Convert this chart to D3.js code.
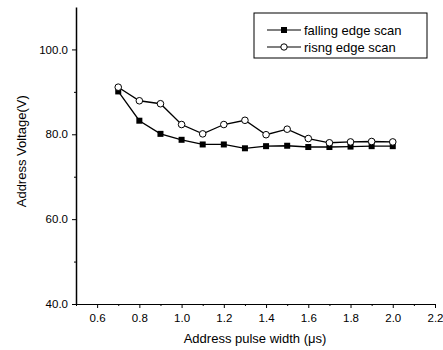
<!DOCTYPE html>
<html>
<head>
<meta charset="utf-8">
<script src="https://cdn.jsdelivr.net/npm/d3@7"></script>
<style>
  body { margin: 0; background: #fff; }
  svg { font-family: "Liberation Sans", Arial, sans-serif; }
  .axis path, .axis line { stroke: #000; }
  .axis text { font-size: 11.5px; fill: #000; }
</style>
</head>
<body>
<svg width="443" height="350"></svg>
<script>
const pulseWidth = [0.7, 0.8, 0.9, 1.0, 1.1, 1.2, 1.3, 1.4, 1.5, 1.6, 1.7, 1.8, 1.9, 2.0];
const fallingEdge = [90.1, 83.2, 80.1, 78.7, 77.6, 77.6, 76.7, 77.2, 77.3, 77.0, 77.0, 77.1, 77.2, 77.2];
const risingEdge = [91.1, 87.9, 87.2, 82.3, 80.1, 82.3, 83.3, 79.9, 81.2, 79.0, 78.0, 78.2, 78.3, 78.2];
const xMajor = [0.6, 0.8, 1.0, 1.2, 1.4, 1.6, 1.8, 2.0, 2.2];
const xMinor = [0.5, 0.7, 0.9, 1.1, 1.3, 1.5, 1.7, 1.9, 2.1];
const yMajor = [40, 60, 80, 100];
const yMinor = [50, 70, 90];
const seriesNames = ['falling edge scan', 'risng edge scan'];

const svg = d3.select('svg');

const x = d3.scaleLinear().domain([0.5, 2.2]).range([76, 435]);
const y = d3.scaleLinear().domain([40, 110]).range([304, 7]);

// axes
svg.append('g')
  .attr('class', 'axis')
  .attr('transform', `translate(0, ${y(40)})`)
  .call(d3.axisBottom(x).tickValues(xMinor).tickSize(2).tickFormat(''))
  .call(g => g.select('.domain').remove());

svg.append('g')
  .attr('class', 'axis')
  .attr('transform', `translate(0, ${y(40)})`)
  .call(d3.axisBottom(x).tickValues(xMajor).tickSize(4).tickSizeOuter(0).tickPadding(6).tickFormat(d3.format('.1f')))
  .call(g => g.select('.domain').attr('stroke-width', 1.2));

svg.append('g')
  .attr('class', 'axis')
  .attr('transform', `translate(${x(0.5)}, 0)`)
  .call(d3.axisLeft(y).tickValues(yMinor).tickSize(2).tickFormat(''))
  .call(g => g.select('.domain').remove());

svg.append('g')
  .attr('class', 'axis')
  .attr('transform', `translate(${x(0.5)}, 0)`)
  .call(d3.axisLeft(y).tickValues(yMajor).tickSize(4).tickSizeOuter(0).tickPadding(4).tickFormat(d3.format('.1f')))
  .call(g => g.select('.domain').attr('stroke-width', 1.5));

// axis titles
svg.append('text')
  .attr('x', 255).attr('y', 343)
  .attr('text-anchor', 'middle')
  .attr('font-size', 13)
  .text('Address pulse width (μs)');

svg.append('text')
  .attr('transform', `translate(26, ${y(76)}) rotate(-90)`)
  .attr('text-anchor', 'middle')
  .attr('font-size', 13)
  .text('Address Voltage(V)');

// series
const line = d3.line().x(d => x(d[0])).y(d => y(d[1]));
const falling = pulseWidth.map((p, i) => [p, fallingEdge[i]]);
const rising = pulseWidth.map((p, i) => [p, risingEdge[i]]);

svg.append('path').datum(rising)
  .attr('fill', 'none').attr('stroke', '#000').attr('stroke-width', 1.3)
  .attr('d', line);
svg.append('path').datum(falling)
  .attr('fill', 'none').attr('stroke', '#000').attr('stroke-width', 1.3)
  .attr('d', line);

svg.selectAll('.sq').data(falling).enter().append('rect')
  .attr('x', d => x(d[0]) - 3).attr('y', d => y(d[1]) - 3)
  .attr('width', 6).attr('height', 6).attr('fill', '#000');

svg.selectAll('.ci').data(rising).enter().append('circle')
  .attr('cx', d => x(d[0])).attr('cy', d => y(d[1])).attr('r', 3.3)
  .attr('fill', '#fff').attr('stroke', '#000').attr('stroke-width', 1);

// legend
const lg = svg.append('g').attr('transform', 'translate(254, 13)');
lg.append('rect').attr('width', 173).attr('height', 45)
  .attr('fill', '#fff').attr('stroke', '#000').attr('stroke-width', 1);
seriesNames.forEach((name, i) => {
  const yy = 17 + i * 17;
  lg.append('line').attr('x1', 13).attr('x2', 47).attr('y1', yy).attr('y2', yy)
    .attr('stroke', '#000').attr('stroke-width', 1.2);
  if (i === 0) {
    lg.append('rect').attr('x', 27).attr('y', yy - 3).attr('width', 6).attr('height', 6).attr('fill', '#000');
  } else {
    lg.append('circle').attr('cx', 30).attr('cy', yy).attr('r', 3.2)
      .attr('fill', '#fff').attr('stroke', '#000');
  }
  lg.append('text').attr('x', 50).attr('y', yy + 4.5)
    .attr('font-size', 13).text(name);
});
</script>
</body>
</html>
